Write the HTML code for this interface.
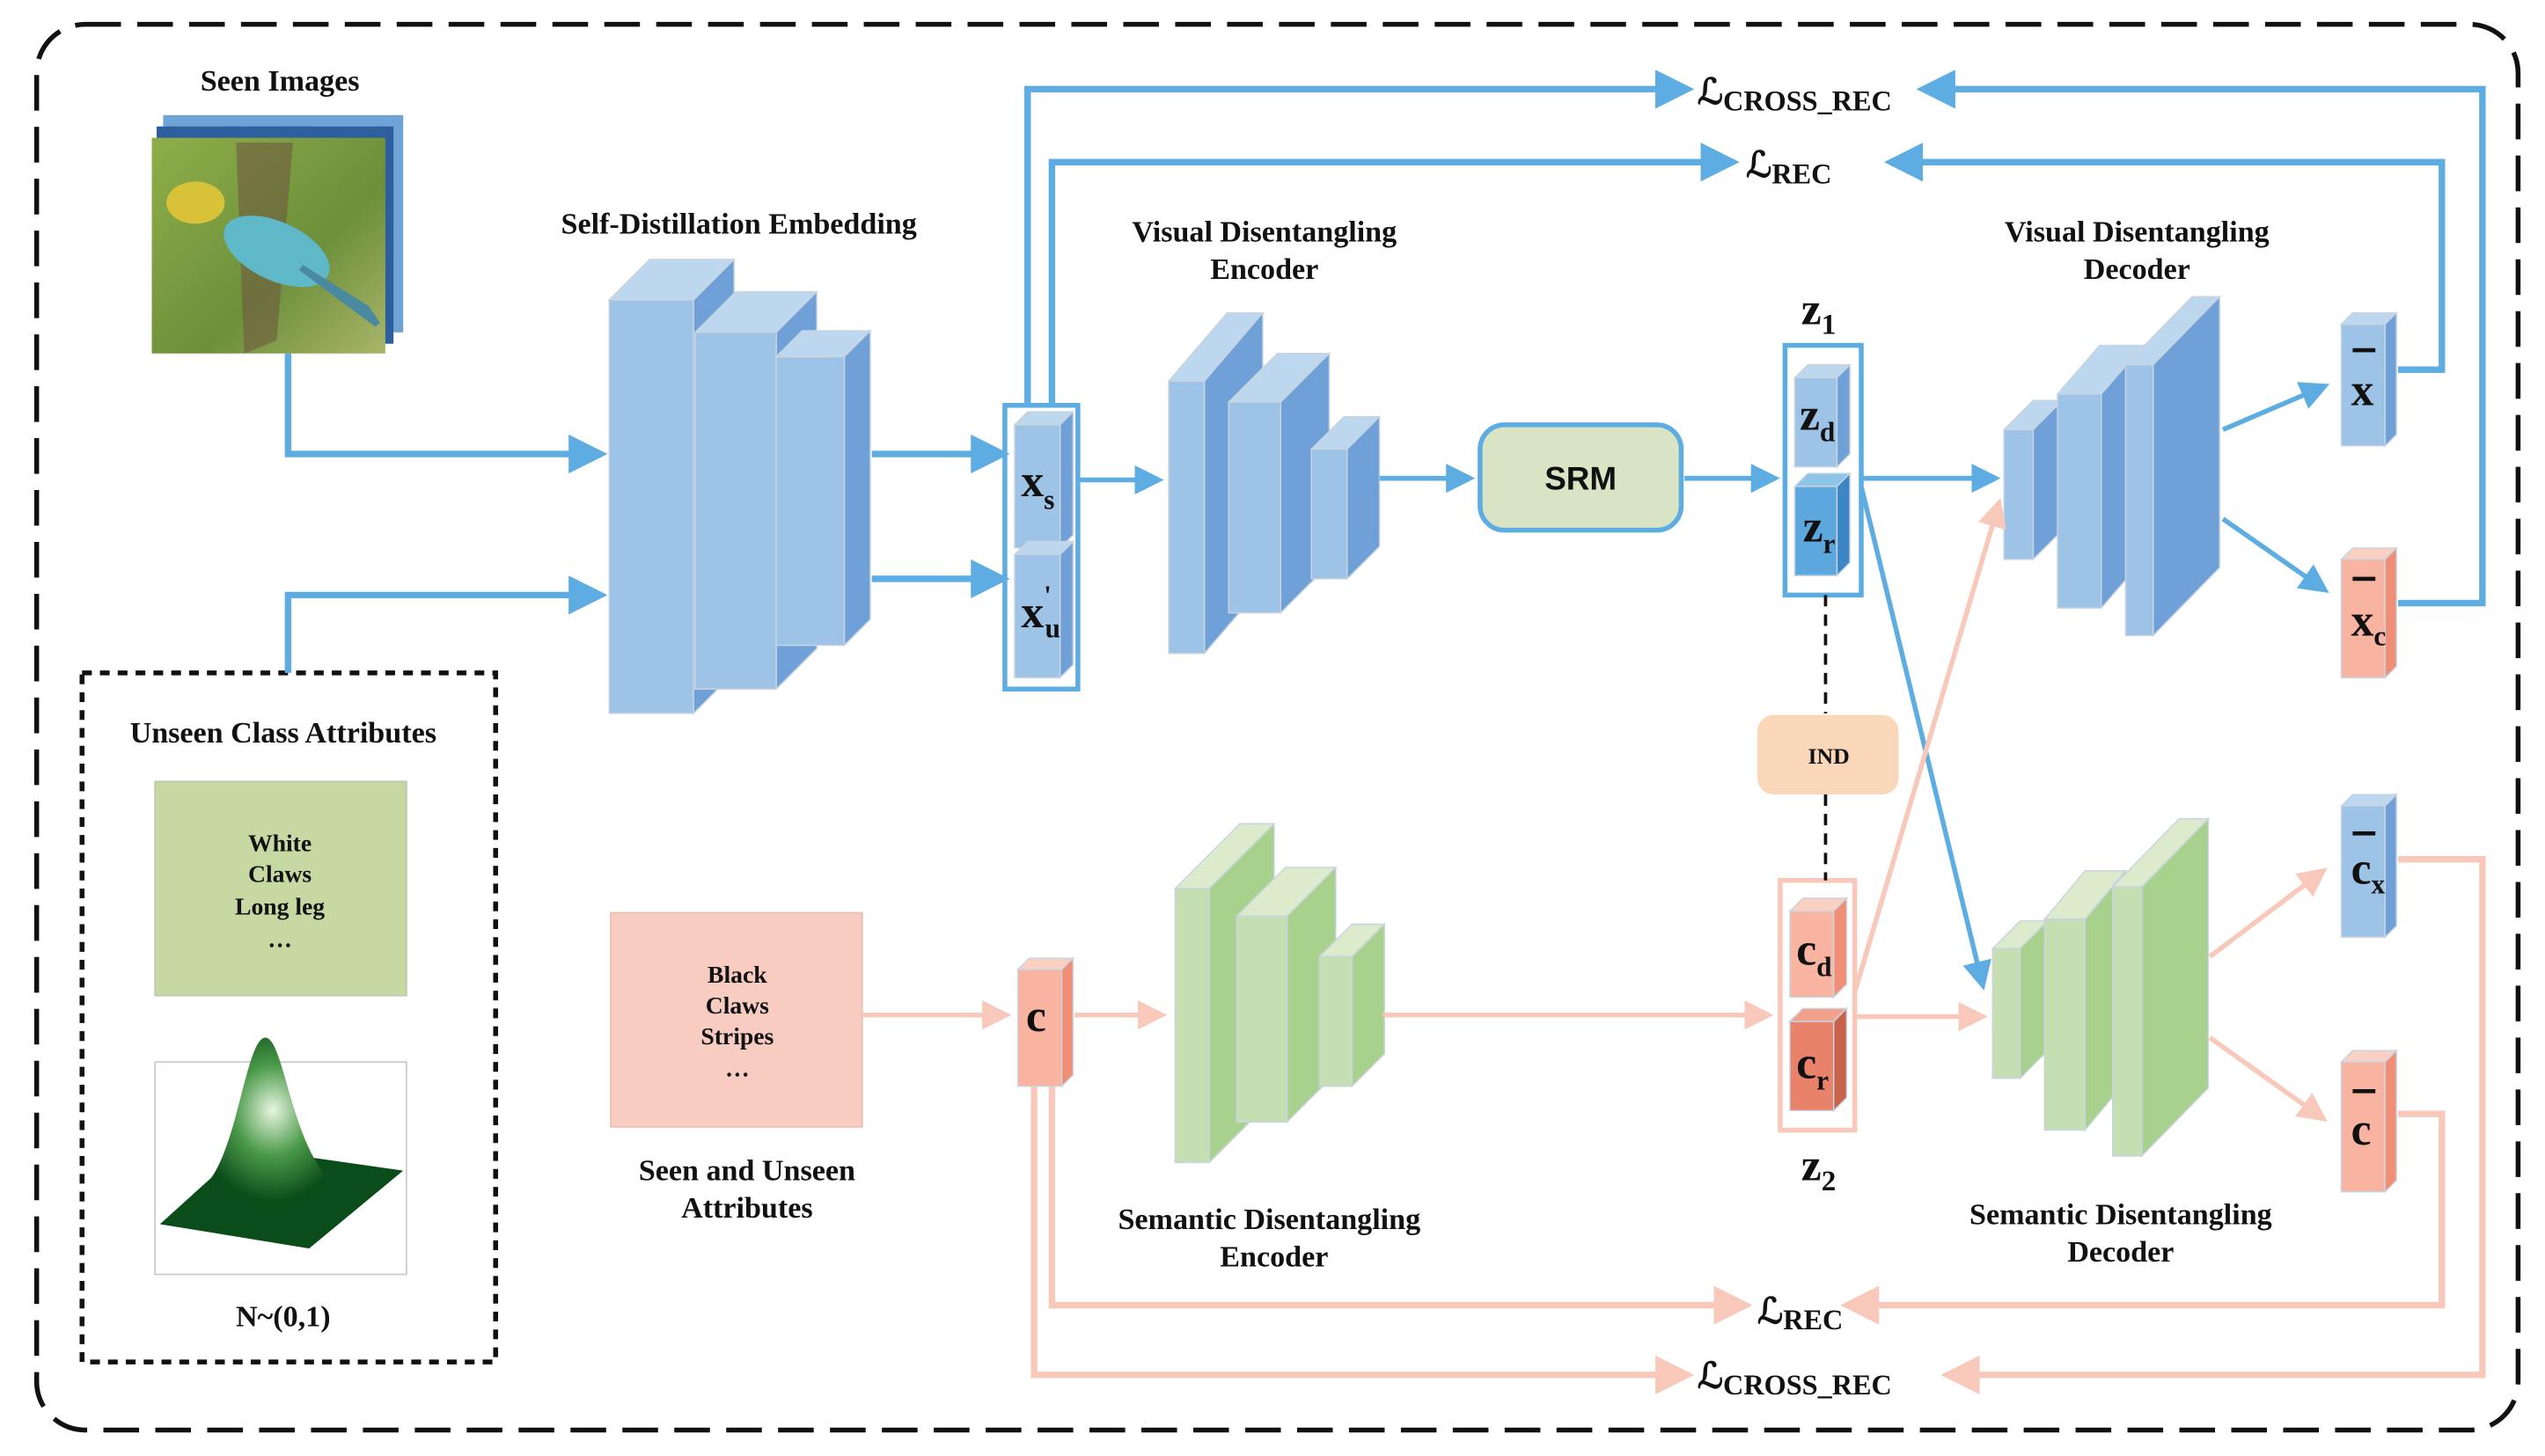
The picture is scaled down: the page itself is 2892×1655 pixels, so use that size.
<!DOCTYPE html>
<html><head><meta charset="utf-8"><style>
html,body{margin:0;padding:0;background:#fff;}
svg{display:block;}
text{font-family:"Liberation Serif",serif;font-weight:bold;fill:#111;}
</style></head><body>
<svg id="s" width="2892" height="1655" viewBox="0 0 1568 898" xmlns="http://www.w3.org/2000/svg">
<defs>
<marker id="ab" markerWidth="6" markerHeight="6" refX="5" refY="3" orient="auto" markerUnits="strokeWidth"><path d="M0,0 L6,3 L0,6 z" fill="#5DADE2"/></marker>
<marker id="ap" markerWidth="6" markerHeight="6" refX="5" refY="3" orient="auto" markerUnits="strokeWidth"><path d="M0,0 L6,3 L0,6 z" fill="#F8C8BA"/></marker>
<linearGradient id="bird" x1="0" y1="0" x2="1" y2="1"><stop offset="0" stop-color="#8fae4a"/><stop offset="0.6" stop-color="#6c8f3a"/><stop offset="1" stop-color="#a9b56a"/></linearGradient>
<radialGradient id="gauss" cx="0.5" cy="0.4" r="0.5"><stop offset="0" stop-color="#e8f5e0"/><stop offset="0.5" stop-color="#4a9a4a"/><stop offset="1" stop-color="#0b4d1a"/></radialGradient>
</defs>
<rect x="22" y="15" width="1530" height="867" rx="30" fill="none" stroke="#111" stroke-width="3" stroke-dasharray="22 10"/>

<text x="172" y="56" font-size="18.5" text-anchor="middle">Seen Images</text>
<rect x="100" y="71" width="148" height="134" fill="#6fa3d6"/>
<rect x="96" y="78" width="146" height="134" fill="#2d5f9e"/>
<rect x="93" y="85" width="144" height="133" fill="url(#bird)"/>
<path d="M145 88 L180 88 L170 210 L150 218 Z" fill="#6e5a40" opacity="0.6"/>
<ellipse cx="170" cy="155" rx="35" ry="18" fill="#5fb8c8" transform="rotate(25 170 155)"/>
<ellipse cx="120" cy="125" rx="18" ry="13" fill="#d8c23a"/>
<path d="M185 165 L232 200 L225 190 Z" fill="#4a8aa0" stroke="#4a8aa0" stroke-width="4"/>

<rect x="50" y="415" width="255" height="425" fill="none" stroke="#111" stroke-width="3" stroke-dasharray="6 5"/>
<text x="174" y="458" font-size="18.5" text-anchor="middle">Unseen Class Attributes</text>
<rect x="95" y="482" width="155" height="132" fill="#c6d9a2" stroke="#c0c8b0"/>
<g font-size="15" text-anchor="middle"><text x="172" y="525">White</text><text x="172" y="544">Claws</text><text x="172" y="564">Long leg</text><text x="172" y="584">…</text></g>
<rect x="95" y="655" width="155" height="131" fill="#fff" stroke="#ccc"/>
<path d="M98 755 L150 708 L248 722 L190 770 Z" fill="#0b4d1a"/>
<path d="M120 735 C145 725 150 640 163 640 C176 640 180 725 215 735 L190 752 L140 752 Z" fill="url(#gauss)"/>
<text x="174" y="818" font-size="18.5" text-anchor="middle">N~(0,1)</text>

<rect x="376" y="563" width="155" height="132" fill="#F8CCC0" stroke="#e8c0b4"/>
<g font-size="15" text-anchor="middle"><text x="454" y="606">Black</text><text x="454" y="625">Claws</text><text x="454" y="644">Stripes</text><text x="454" y="664">…</text></g>
<text x="460" y="728" font-size="18.5" text-anchor="middle">Seen and Unseen</text>
<text x="460" y="751" font-size="18.5" text-anchor="middle">Attributes</text>

<g id="cubes"></g>

<g font-size="18.5" text-anchor="middle">
<text x="455" y="144">Self-Distillation Embedding</text>
<text x="779" y="149">Visual Disentangling</text><text x="779" y="172">Encoder</text>
<text x="1317" y="149">Visual Disentangling</text><text x="1317" y="172">Decoder</text>
<text x="782" y="758">Semantic Disentangling</text><text x="785" y="781">Encoder</text>
<text x="1307" y="755">Semantic Disentangling</text><text x="1307" y="778">Decoder</text>
</g>

<g fill="none" stroke="#5DADE2" stroke-width="4">
<path d="M177 218 V280 H370" marker-end="url(#ab)"/>
<path d="M177 415 V367 H370" marker-end="url(#ab)"/>
<path d="M537 280 H618" marker-end="url(#ab)"/>
<path d="M537 357 H618" marker-end="url(#ab)"/>
<path d="M633 250 V55 H1040" marker-end="url(#ab)"/>
<path d="M648 250 V100 H1068" marker-end="url(#ab)"/>
<path d="M1478 228 H1505 V100 H1165" marker-end="url(#ab)"/>
<path d="M1478 372 H1530 V55 H1185" marker-end="url(#ab)"/>
</g>
<g fill="none" stroke="#5DADE2" stroke-width="3">
<path d="M664 296 H714" marker-end="url(#ab)"/>
<path d="M850 295 H906" marker-end="url(#ab)"/>
<path d="M1038 295 H1094" marker-end="url(#ab)"/>
<path d="M1147 295 H1230" marker-end="url(#ab)"/>
<path d="M1147 300 L1222 608" marker-end="url(#ab)"/>
<path d="M1370 265 L1433 238" marker-end="url(#ab)"/>
<path d="M1370 320 L1433 364" marker-end="url(#ab)"/>
</g>
<g fill="none" stroke="#F8C8BA" stroke-width="3">
<path d="M531 626 H620" marker-end="url(#ap)"/>
<path d="M662 626 H716" marker-end="url(#ap)"/>
<path d="M852 626 H1090" marker-end="url(#ap)"/>
<path d="M1143 612 L1232 310" marker-end="url(#ap)"/>
<path d="M1143 627 H1222" marker-end="url(#ap)"/>
<path d="M1362 590 L1432 537" marker-end="url(#ap)"/>
<path d="M1362 640 L1432 690" marker-end="url(#ap)"/>
</g>
<g fill="none" stroke="#F8C8BA" stroke-width="4">
<path d="M637 670 V848 H1040" marker-end="url(#ap)"/>
<path d="M648 670 V805 H1076" marker-end="url(#ap)"/>
<path d="M1478 530 H1530 V848 H1200" marker-end="url(#ap)"/>
<path d="M1478 687 H1505 V805 H1138" marker-end="url(#ap)"/>
</g>

<rect x="619" y="250" width="45" height="175" fill="none" stroke="#5DADE2" stroke-width="3"/>
<rect x="1100" y="213" width="47" height="154" fill="none" stroke="#5DADE2" stroke-width="3"/>
<rect x="1097" y="543" width="46" height="154" fill="none" stroke="#F8C8BA" stroke-width="3"/>
<line x1="1125" y1="367" x2="1125" y2="440" stroke="#111" stroke-width="2" stroke-dasharray="7 5"/>
<line x1="1125" y1="490" x2="1125" y2="543" stroke="#111" stroke-width="2" stroke-dasharray="7 5"/>
<rect x="1083" y="441" width="87" height="49" rx="10" fill="#FAD7B8"/>
<text x="1127" y="471" font-size="14" text-anchor="middle">IND</text>
<rect x="912" y="262" width="124" height="65" rx="15" fill="#d9e4c4" stroke="#5DADE2" stroke-width="3"/>
<text x="974" y="302" font-size="20" text-anchor="middle" style="font-family:'Liberation Sans',sans-serif">SRM</text>

<g id="cubes2"></g>

<g font-size="28">
<text x="629" y="306">x<tspan font-size="17" dy="8">s</tspan></text>
<text x="629" y="387">x<tspan font-size="17" dy="-14">'</tspan><tspan font-size="17" dx="-4" dy="20">u</tspan></text>
<text x="1109" y="265">z<tspan font-size="17" dy="7">d</tspan></text>
<text x="1111" y="334">z<tspan font-size="17" dy="7">r</tspan></text>
<text x="1107" y="595">c<tspan font-size="17" dy="7">d</tspan></text>
<text x="1107" y="665">c<tspan font-size="17" dy="7">r</tspan></text>
<text x="632" y="636">c</text>
<text x="1110" y="200">z<tspan font-size="18" dy="6">1</tspan></text>
<text x="1110" y="728">z<tspan font-size="18" dy="6">2</tspan></text>
<text x="1449" y="250">x</text><text x="1449" y="392">x<tspan font-size="17" dy="6">c</tspan></text>
<text x="1449" y="545">c<tspan font-size="17" dy="6">x</tspan></text><text x="1449" y="706">c</text>
</g>
<g stroke="#111" stroke-width="2.5">
<line x1="1450" y1="216" x2="1464" y2="216"/><line x1="1450" y1="357" x2="1464" y2="357"/>
<line x1="1450" y1="514" x2="1464" y2="514"/><line x1="1450" y1="673" x2="1464" y2="673"/>
</g>
<g font-size="22" style="font-weight:normal">
<text x="1046" y="64" style="font-family:'DejaVu Serif',serif">ℒ<tspan font-size="17.5" font-weight="bold" style="font-family:'Liberation Serif',serif" dy="4">CROSS_REC</tspan></text>
<text x="1076" y="109" style="font-family:'DejaVu Serif',serif">ℒ<tspan font-size="17.5" font-weight="bold" style="font-family:'Liberation Serif',serif" dy="4">REC</tspan></text>
<text x="1083" y="816" style="font-family:'DejaVu Serif',serif">ℒ<tspan font-size="17.5" font-weight="bold" style="font-family:'Liberation Serif',serif" dy="4">REC</tspan></text>
<text x="1046" y="856" style="font-family:'DejaVu Serif',serif">ℒ<tspan font-size="17.5" font-weight="bold" style="font-family:'Liberation Serif',serif" dy="4">CROSS_REC</tspan></text>
</g>
</svg>
<script>
var NS="http://www.w3.org/2000/svg";
function cube(g,x,y,w,h,dx,dy,cf,ct,cs){
 function p(pts,c){var e=document.createElementNS(NS,"polygon");e.setAttribute("points",pts);e.setAttribute("fill",c);e.setAttribute("stroke","#c8d4e0");e.setAttribute("stroke-width","0.8");g.appendChild(e);}
 p([x,y,x+dx,y-dy,x+w+dx,y-dy,x+w,y].join(" "),ct);
 p([x+w,y,x+w+dx,y-dy,x+w+dx,y+h-dy,x+w,y+h].join(" "),cs);
 p([x,y,x+w,y,x+w,y+h,x,y+h].join(" "),cf);
}
var g=document.getElementById("cubes"),g2=document.getElementById("cubes2");
var B=["#9DC3E6","#BDD7EE","#6FA1D8"],G=["#C5DFB3","#DCEBCB","#A9D18E"],P=["#F8B4A0","#FAD0C2","#EF8E74"],R=["#E8826A","#F2A28C","#C9624A"],D=["#5BA7DE","#8CC4EA","#3D86C6"];
cube(g,375,185,52,255,25,25,B[0],B[1],B[2]);
cube(g,428,205,50,220,25,25,B[0],B[1],B[2]);
cube(g,478,220,42,178,16,16,B[0],B[1],B[2]);
cube(g,720,235,22,168,36,42,B[0],B[1],B[2]);
cube(g,757,248,32,130,30,30,B[0],B[1],B[2]);
cube(g,808,277,22,80,20,20,B[0],B[1],B[2]);
cube(g,1235,265,18,80,18,18,B[0],B[1],B[2]);
cube(g,1268,243,27,132,26,30,B[0],B[1],B[2]);
cube(g,1310,225,17,167,41,42,B[0],B[1],B[2]);
cube(g,724,548,21,169,40,40,G[0],G[1],G[2]);
cube(g,762,565,31,127,30,30,G[0],G[1],G[2]);
cube(g,813,590,20,80,20,20,G[0],G[1],G[2]);
cube(g,1228,585,17,80,17,17,G[0],G[1],G[2]);
cube(g,1260,567,25,130,25,30,G[0],G[1],G[2]);
cube(g,1302,547,18,166,41,42,G[0],G[1],G[2]);
cube(g2,625,262,28,76,8,8,B[0],B[1],B[2]);
cube(g2,625,342,28,76,8,8,B[0],B[1],B[2]);
cube(g2,1106,233,26,55,8,8,B[0],B[1],B[2]);
cube(g2,1106,300,26,55,8,8,D[0],D[1],D[2]);
cube(g2,1103,562,27,53,8,8,P[0],P[1],P[2]);
cube(g2,1103,630,27,55,8,8,R[0],R[1],R[2]);
cube(g2,627,598,27,72,7,7,P[0],P[1],P[2]);
cube(g2,1443,200,27,75,7,7,B[0],B[1],B[2]);
cube(g2,1443,345,27,73,7,7,P[0],P[1],P[2]);
cube(g2,1443,497,27,81,7,7,B[0],B[1],B[2]);
cube(g2,1443,655,27,80,7,7,P[0],P[1],P[2]);
</script>
</body></html>
